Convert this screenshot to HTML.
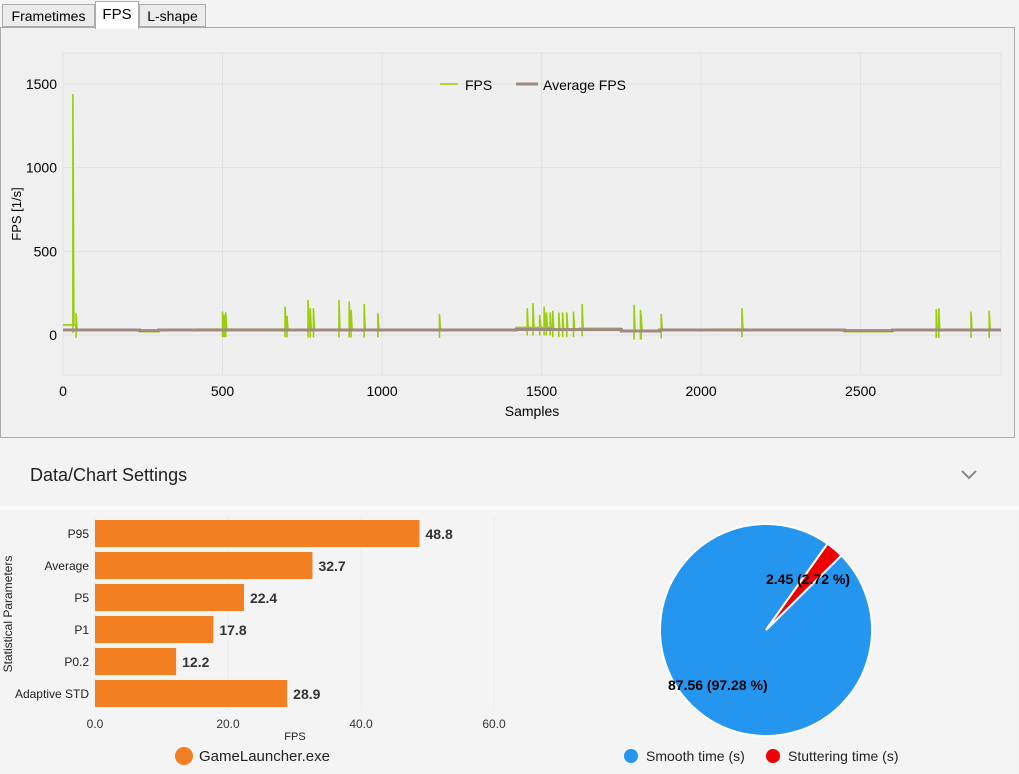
<!DOCTYPE html>
<html><head><meta charset="utf-8">
<style>
body{margin:0;width:1019px;height:774px;background:#f3f3f3;font-family:"Liberation Sans",sans-serif;overflow:hidden;position:relative}
.tab{position:absolute;top:4px;height:23px;border:1px solid #acacac;background:#ebebeb;font-size:14px;line-height:23px;padding:0;text-align:center;box-sizing:border-box;color:#000;white-space:nowrap}
</style></head><body>
<div class="tab" style="left:2px;width:93px">Frametimes</div>
<div class="tab" style="left:95px;width:44px;top:1px;height:28px;background:#fff;border-bottom:none;z-index:2;line-height:26px;font-size:15px">FPS</div>
<div class="tab" style="left:139px;width:67px">L-shape</div>
<div style="position:absolute;left:0;top:27px;width:1015px;height:411px;border:1px solid #acacac;box-sizing:border-box;background:#f0f0f0"></div>
<svg id="fps" style="position:absolute;left:0;top:0" width="1019" height="440"></svg>
<div style="position:absolute;left:0;top:440px;width:1019px;height:66px;background:#f3f3f3">
<div style="position:absolute;left:30px;top:25px;font-size:18px;color:#222">Data/Chart Settings</div>
<svg style="position:absolute;left:961px;top:30px" width="16" height="10"><path d="M1 1 L8 8 L15 1" fill="none" stroke="#888" stroke-width="2"/></svg>
</div>
<div style="position:absolute;left:0;top:506px;width:1019px;height:4px;background:#fafafa"></div>
<div style="position:absolute;left:0;top:510px;width:1015px;height:261px;background:#f4f4f4"></div>
<svg id="bar" style="position:absolute;left:0;top:0" width="600" height="774"></svg>
<svg id="pie" style="position:absolute;left:0;top:0" width="1019" height="774"></svg>
<script>
const NS="http://www.w3.org/2000/svg";
function mk(p,t,a){const e=document.createElementNS(NS,t);for(const k in a)e.setAttribute(k,a[k]);p.appendChild(e);return e;}
// ===== FPS line chart =====
const xTicks=[0,500,1000,1500,2000,2500];
const yTicks=[0,500,1000,1500];
const baseStarts=[0,40,240,300,420,700,1000,1420,1530,1620,1750,1870,2040,2140,2450,2600,2940];
const baseValues=[60,30,20,30,35,33,30,45,35,40,20,28,35,30,20,30,30];
const spikeSamples=[31,41,500,505,510,696,702,768,775,785,865,897,903,944,987,1180,1455,1473,1494,1508,1515,1527,1535,1554,1566,1579,1600,1627,1790,1810,1812,1875,2128,2737,2745,2846,2903];
const spikeValues=[1440,130,140,120,135,170,115,210,160,160,210,200,150,185,130,125,160,190,120,170,135,135,145,135,135,135,140,185,180,150,120,125,160,155,160,140,145];
const avgStarts=[0,240,300,1420,1530,1750,1870,2450,2600,2940];
const avgValues=[30,26,30,33,32,24,30,26,30,30];
const X0=63,X1=1001,Y0=53,Y1=375,XMAX=2940,YMIN=-239,YMAX=1685;
const sx=v=>X0+(v/XMAX)*(X1-X0), sy=v=>Y1-(v-YMIN)/(YMAX-YMIN)*(Y1-Y0);
const fs=document.getElementById('fps');
mk(fs,'rect',{x:X0,y:Y0,width:X1-X0,height:Y1-Y0,fill:'#efefef',stroke:'#e2e2e2'});
xTicks.forEach(t=>{const x=sx(t);
 const g=mk(fs,'line',{x1:x,x2:x,y1:Y0,y2:Y1,stroke:'#e2e2e2'});
 const l=mk(fs,'text',{x:x,y:396,'text-anchor':'middle','font-size':14,fill:'#000'});l.textContent=t;
 });
yTicks.forEach(t=>{const y=sy(t);
 const g=mk(fs,'line',{x1:X0,x2:X1,y1:y,y2:y,stroke:'#e2e2e2'});
 const l=mk(fs,'text',{x:57,y:y+5,'text-anchor':'end','font-size':14,fill:'#000'});l.textContent=t;
 });
let xt=mk(fs,'text',{x:532,y:416,'text-anchor':'middle','font-size':14});xt.textContent='Samples';

let yt=mk(fs,'text',{x:0,y:0,'text-anchor':'middle','font-size':13,transform:'translate(21,214) rotate(-90)'});yt.textContent='FPS [1/s]';

function stepPath(st,vals){let d='';for(let i=0;i<st.length-1;i++){d+=(i?'L':'M')+sx(st[i])+' '+sy(vals[i])+'L'+sx(st[i+1])+' '+sy(vals[i]);}return d;}
function baseAt(s){let v=baseValues[0];for(let i=0;i<baseStarts.length;i++)if(baseStarts[i]<=s)v=baseValues[i];return v;}
let d=stepPath(baseStarts,baseValues);
spikeSamples.forEach((s,i)=>{const b=sy(baseAt(s));d+='M'+sx(s)+' '+(b+8)+'L'+sx(s)+' '+sy(spikeValues[i])+'L'+(sx(s)+1)+' '+b;});
const fl=mk(fs,'path',{d:d,fill:'none',stroke:'#9ccc0a','stroke-width':1.6});

const al=mk(fs,'path',{d:stepPath(avgStarts,avgValues),fill:'none',stroke:'#9e8a82','stroke-width':3});

let lg=mk(fs,'g',{});
mk(lg,'line',{x1:440,x2:458,y1:84,y2:84,stroke:'#9ccc0a','stroke-width':1.6});
let t1=mk(lg,'text',{x:465,y:90,'font-size':14});t1.textContent='FPS';
mk(lg,'line',{x1:516,x2:538,y1:84,y2:84,stroke:'#9e8a82','stroke-width':3});
let t2=mk(lg,'text',{x:543,y:90,'font-size':14});t2.textContent='Average FPS';
// ===== Bar chart =====
const barCats=['P95','Average','P5','P1','P0.2','Adaptive STD'];
const barVals=[48.8,32.7,22.4,17.8,12.2,28.9];
const barTicks=[0,20,40,60];
const BX0=95,BPX=6.65,BY0=520,BAND=32,BH=27;
const bx=v=>BX0+v*BPX;
const bs=document.getElementById('bar');
barTicks.forEach(t=>{const g=mk(bs,'line',{x1:bx(t),x2:bx(t),y1:516,y2:710,stroke:'#ebebeb'});
 const l=mk(bs,'text',{x:bx(t),y:728,'text-anchor':'middle','font-size':12,fill:'#333'});l.textContent=t.toFixed(1);
 });
barCats.forEach((c,i)=>{const y=BY0+i*BAND;
 const r=mk(bs,'rect',{x:BX0,y:y,width:bx(barVals[i])-BX0,height:BH,fill:'#f28022'});
 
 const l=mk(bs,'text',{x:89,y:y+18,'text-anchor':'end','font-size':12,fill:'#222'});l.textContent=c;
 
 const v=mk(bs,'text',{x:bx(barVals[i])+6,y:y+19,'font-size':14,'font-weight':'bold',fill:'#333'});v.textContent=barVals[i].toFixed(1);
 });
let bt=mk(bs,'text',{x:295,y:740,'text-anchor':'middle','font-size':11,fill:'#222'});bt.textContent='FPS';

let by=mk(bs,'text',{x:0,y:0,'text-anchor':'middle','font-size':12,fill:'#222',transform:'translate(12,614) rotate(-90)'});by.textContent='Statistical Parameters';

let bl=mk(bs,'g',{});
mk(bl,'circle',{cx:184,cy:756,r:9,fill:'#f28022'});
let blt=mk(bl,'text',{x:199,y:761,'font-size':15,fill:'#222'});blt.textContent='GameLauncher.exe';
// ===== Pie =====
const pieLabels=['Smooth time (s)','Stuttering time (s)'];
const pieValues=[87.56,2.45];
const pieColors=['#2596f0','#f00000'];
const ps=document.getElementById('pie');
const CX=766,CY=630,R=106,START=45.3;
const tot=pieValues.reduce((a,b)=>a+b,0);
let ang=START;
const pt=(a,r)=>[CX+r*Math.sin(a*Math.PI/180),CY-r*Math.cos(a*Math.PI/180)];
pieValues.forEach((v,i)=>{const sw=v/tot*360,a1=ang+sw;const p0=pt(ang,R),p1=pt(a1,R);
 const s=mk(ps,'path',{d:`M${CX} ${CY}L${p0[0]} ${p0[1]}A${R} ${R} 0 ${sw>180?1:0} 1 ${p1[0]} ${p1[1]}Z`,fill:pieColors[i],stroke:'#fff','stroke-width':2});
 
 ang=a1;});
const pl1=mk(ps,'text',{x:766,y:584,'font-size':14,'font-weight':'bold'});pl1.textContent=pieValues[1].toFixed(2)+' ('+(pieValues[1]/tot*100).toFixed(2)+' %)';

const pl0=mk(ps,'text',{x:668,y:690,'font-size':14,'font-weight':'bold'});pl0.textContent=pieValues[0].toFixed(2)+' ('+(pieValues[0]/tot*100).toFixed(2)+' %)';

const lx=[631,773];
pieLabels.forEach((l,i)=>{const g=mk(ps,'g',{});
 mk(g,'circle',{cx:lx[i],cy:756,r:7,fill:pieColors[i]});
 const t=mk(g,'text',{x:lx[i]+15,y:761,'font-size':14,fill:'#222'});t.textContent=l;});
</script>
</body></html>
